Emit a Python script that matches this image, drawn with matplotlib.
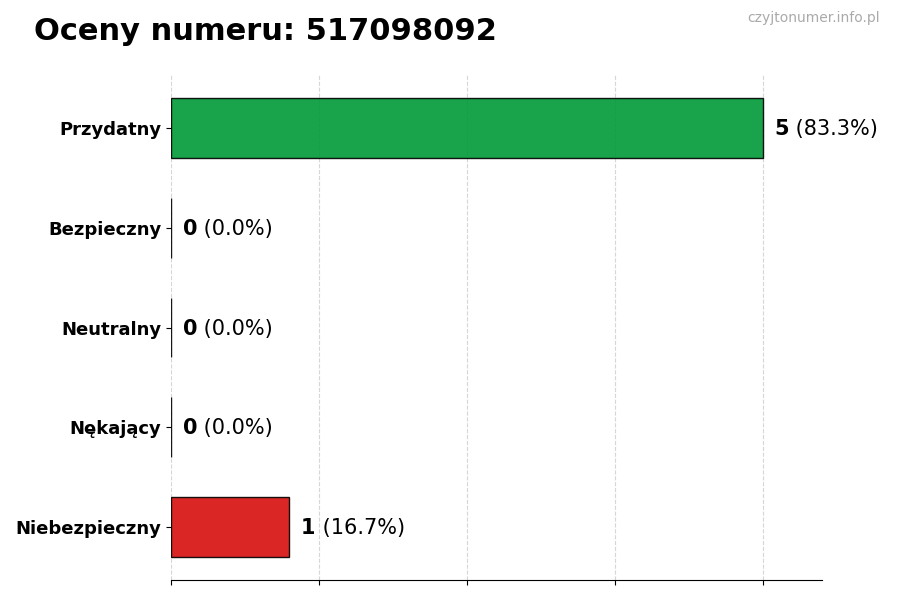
import numpy as np
import matplotlib.pyplot as plt

title = "Oceny numeru: 517098092"
watermark = "czyjtonumer.info.pl"
categories = ["Przydatny", "Bezpieczny", "Neutralny", "Nękający", "Niebezpieczny"]
counts = [5, 0, 0, 0, 1]
colors = ["#009936", "#2563eb", "#9ca3af", "#f97316", "#d80e0e"]

total = sum(counts)
ypos = np.arange(len(categories))[::-1]

fig = plt.figure(figsize=(9, 6), dpi=100)
ax = fig.add_axes([0.19, 0.0333, 0.723, 0.8417])

ax.barh(ypos, counts, height=0.6, color=colors, edgecolor="black", linewidth=1,
        alpha=0.9, zorder=2)

xmax = max(counts)
ax.set_xlim(0, xmax * 1.1)
ax.set_xticks(np.linspace(0, xmax, 5))
ax.set_xticklabels([])
ax.set_yticks(ypos)
ax.set_yticklabels(categories, fontsize=13, fontweight="bold")

ax.grid(axis="x", linestyle="--", color="#cccccc", alpha=0.8, linewidth=0.8, zorder=0)
ax.set_axisbelow(True)
for s in ["top", "right", "left"]:
    ax.spines[s].set_visible(False)

for y, c in zip(ypos, counts):
    pct = c / total * 100
    t = ax.text(c + 0.1, y - 0.01, str(c), fontsize=15, fontweight="bold", va="center", ha="left")
    ax.annotate(f" ({pct:.1f}%)", xy=(1, 0.5), xycoords=t, va="center", ha="left", fontsize=15)

fig.text(0.038, 0.947, title, fontsize=22, fontweight="bold", va="center", ha="left")
fig.text(0.978, 0.97, watermark, fontsize=10, color="#aaaaaa", va="center", ha="right")

fig.savefig("out.png", dpi=100)
